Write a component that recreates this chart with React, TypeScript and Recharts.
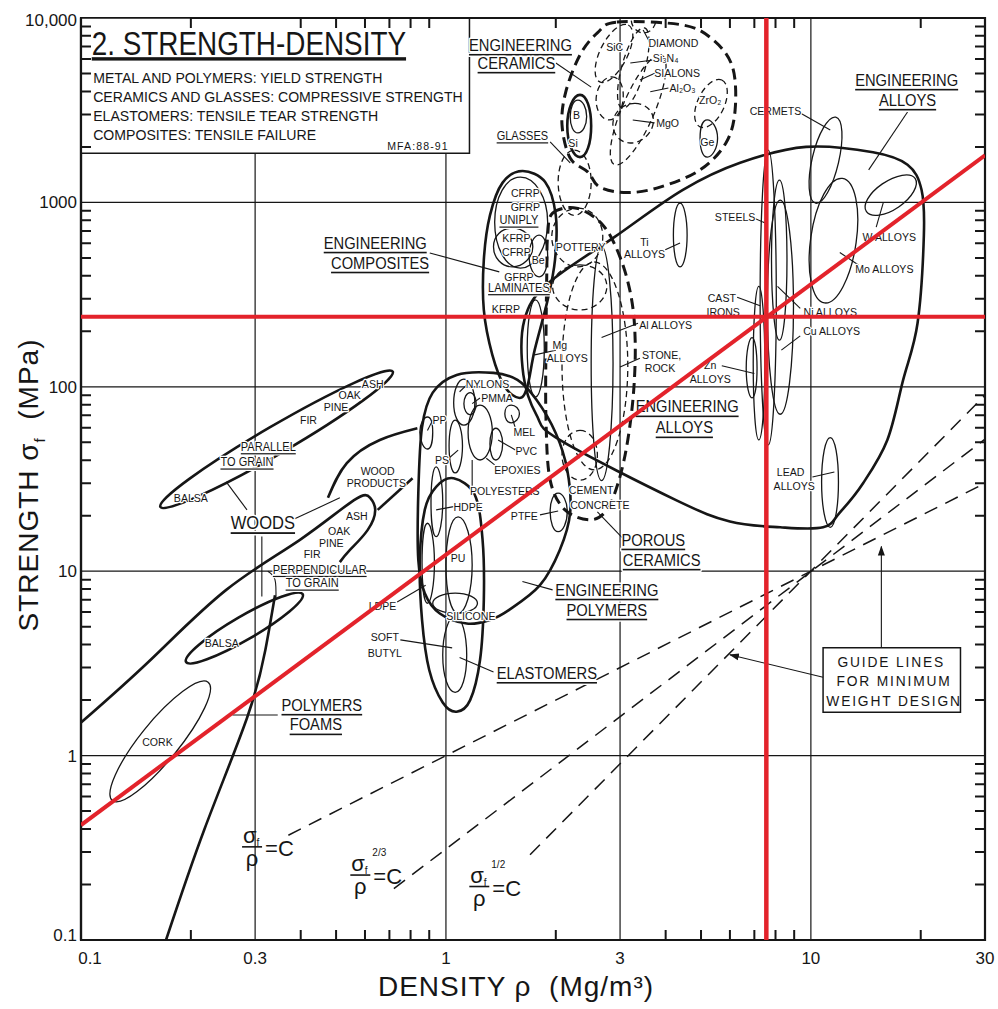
import React from 'react';
import {
  ComposedChart,
  Line,
  Scatter,
  XAxis,
  YAxis,
  ReferenceLine,
  ReferenceArea,
} from 'recharts';

type Pt = [number, number];
interface Tag { t: string; x: number; y: number }

// ---- axis ticks ----
const majorX = [0.1, 0.3, 1, 3, 10, 30];
const minorX = [0.2, 0.4, 0.5, 0.6, 0.7, 0.8, 0.9, 2, 4, 5, 6, 7, 8, 9, 20];
const majorY = [0.1, 1, 10, 100, 1000, 10000];
const minorY = [
  0.2, 0.3, 0.4, 0.5, 0.6, 0.7, 0.8, 0.9, 2, 3, 4, 5, 6, 7, 8, 9,
  20, 30, 40, 50, 60, 70, 80, 90, 200, 300, 400, 500, 600, 700, 800, 900,
  2000, 3000, 4000, 5000, 6000, 7000, 8000, 9000,
];

// ---- material family envelopes (density Mg/m3, strength MPa) ----
const alloysEnvelope: Pt[] = [
  [1.9, 362], [2.9, 650], [4.46, 1170], [6.4, 1640], [9.7, 2000], [14.8, 1870], [18.4, 1600],
  [20.1, 1170], [20.4, 665], [19.6, 221], [17.9, 109], [16.2, 51.5], [13.9, 30], [12.0, 20.8],
  [10.8, 17.3], [8.24, 17.3], [6.0, 18.6], [4.27, 24.3], [2.05, 51.5], [1.77, 70.5], [1.63, 116], [1.64, 230],
];
const ceramicsEnvelope: Pt[] = [
  [2.94, 9500], [4.46, 9160], [5.4, 7600], [6.1, 5420], [6.2, 3170], [5.85, 2100], [4.97, 1500],
  [3.86, 1210], [3.14, 1130], [2.64, 1210], [2.45, 1460], [2.19, 1740], [2.08, 2630], [2.13, 3980],
  [2.33, 6300], [2.6, 8300],
];
const porousEnvelope: Pt[] = [
  [1.96, 875], [2.28, 930], [2.69, 755], [3.0, 505], [3.22, 305], [3.3, 179], [3.27, 96], [3.15, 51.5],
  [2.98, 31.2], [2.76, 21.5], [2.48, 19], [2.12, 21.5], [1.93, 31.2], [1.88, 66], [1.88, 179], [1.89, 430], [1.9, 665],
];
const compositesEnvelope: Pt[] = [
  [1.62, 1480], [1.87, 1290], [2.0, 850], [1.99, 488], [1.9, 296], [1.75, 158], [1.67, 100], [1.59, 87],
  [1.45, 100], [1.34, 149], [1.27, 261], [1.27, 488], [1.32, 850], [1.43, 1280],
];
const polymersEnvelope: Pt[] = [
  [1.07, 116], [0.92, 93], [0.86, 60.4], [0.84, 26.5], [0.84, 11.5], [0.875, 7.6], [0.962, 5.9], [1.14, 5.2],
  [1.32, 5.44], [1.49, 6.17], [1.81, 8.4], [2.05, 13], [2.19, 20.8], [2.15, 35.4], [2.0, 56], [1.77, 85],
  [1.57, 109], [1.35, 119],
];
const elastomersEnvelope: Pt[] = [
  [1.05, 31.9], [1.2, 25.9], [1.26, 14.8], [1.27, 6.99], [1.24, 3.3], [1.165, 2.0], [1.07, 1.73], [0.98, 1.94],
  [0.9, 2.91], [0.86, 5.44], [0.848, 11.5], [0.875, 21.5], [0.94, 28.7],
];

// open outlines (woods, foams)
const woodsPerpEdge: Pt[] = [
  [0.1, 1.51], [0.155, 3.3], [0.25, 7.92], [0.398, 14.8], [0.56, 24.3], [0.62, 25], [0.64, 21.5],
  [0.61, 16.7], [0.545, 13], [0.512, 11.2],
];
const woodProductsUpper: Pt[] = [[0.475, 25], [0.535, 38.6], [0.659, 51.5], [0.835, 59.6]];
const woodProductsLower: Pt[] = [[0.65, 21.5], [0.81, 31.9]];
const foamsEdge: Pt[] = [[0.171, 0.1], [0.218, 0.4], [0.285, 1.6], [0.32, 3.74], [0.34, 7.4]];

// ---- individual material bubbles: 4 rim points each (tip, side, tip, side) ----
const thickBubbles: Pt[][] = [
  [[0.165, 22.3], [0.358, 44.4], [0.715, 121], [0.328, 60]], // woods parallel to grain
  [[0.194, 3.22], [0.29, 4.32], [0.405, 7.5], [0.27, 5.6]], // balsa perpendicular
  [[2.33, 3830], [2.5, 2600], [2.33, 1760], [2.15, 2600]], // boron
];
const thinBubbles: Pt[][] = [
  // alloys
  [[4.38, 990], [4.58, 665], [4.38, 447], [4.2, 665]], // Ti
  [[7.64, 1920], [8.04, 302], [7.64, 48.4], [7.26, 302]], // steels
  [[8.2, 1320], [8.6, 488], [8.2, 179], [7.8, 488]], // Ni
  [[8.24, 1030], [8.96, 272], [8.24, 71], [7.6, 272]], // Cu
  [[7.2, 350], [7.48, 134], [7.2, 51.5], [6.95, 134]], // cast irons
  [[6.9, 185], [7.12, 126], [6.9, 87], [6.65, 126]], // Zn
  [[1.76, 296], [1.86, 162], [1.76, 88], [1.67, 162]], // Mg
  [[2.67, 575], [2.87, 134], [2.67, 31], [2.5, 134]], // Al
  [[11.3, 53], [11.9, 30.5], [11.3, 17.3], [10.7, 30.5]], // lead
  [[12.2, 1350], [13.3, 603], [10.9, 285], [10.0, 650]], // Mo
  [[11.7, 2900], [11.9, 1640], [10.3, 990], [10.1, 1760]], // cermets
  [[14.2, 890], [17.4, 945], [19.3, 1350], [15.7, 1260]], // W
  [[5.2, 2800], [5.55, 2230], [5.2, 1760], [4.97, 2230]], // Ge
  [[2.3, 3590], [2.43, 2920], [2.3, 2380], [2.19, 2920]], // B
  // composites
  [[1.6, 1370], [1.9, 780], [1.6, 440], [1.36, 780]], // uniply
  [[1.52, 725], [1.73, 575], [1.52, 447], [1.35, 575]], // laminates
  [[1.8, 665], [1.9, 512], [1.8, 395], [1.69, 512]], // Be
  // polymers
  [[1.12, 110], [1.2, 82], [1.12, 62], [1.05, 82]], // nylons
  [[1.165, 93], [1.21, 81], [1.165, 70.5], [1.12, 81]], // PMMA
  [[0.89, 68.6], [0.92, 56.7], [0.89, 46], [0.848, 56.7]], // PP
  [[1.06, 66], [1.11, 47.7], [1.06, 34.1], [1.02, 47.7]], // PS
  [[1.24, 79.6], [1.34, 56.7], [1.24, 40.1], [1.15, 56.7]], // epoxies
  [[1.37, 59.6], [1.43, 49], [1.37, 40.1], [1.32, 49]], // PVC
  [[1.51, 79.6], [1.59, 71.5], [1.51, 63.8], [1.45, 71.5]], // MEL
  [[0.94, 36.8], [0.98, 23.7], [0.94, 15.4], [0.91, 23.7]], // HDPE
  [[1.08, 19.7], [1.18, 10.8], [1.08, 5.9], [1.0, 10.8]], // PU
  [[0.89, 18.2], [0.93, 11.1], [0.89, 6.7], [0.86, 11.1]], // LDPE
  [[1.06, 7.6], [1.22, 6.7], [1.06, 5.9], [0.92, 6.7]], // silicone
  [[1.06, 5.7], [1.14, 3.5], [1.06, 2.2], [0.98, 3.5]], // soft butyl
  [[2.03, 26.5], [2.15, 21], [2.03, 16.4], [1.93, 21]], // PTFE
  [[0.122, 0.57], [0.181, 1.03], [0.223, 2.5], [0.149, 1.38]], // cork
];
const dashedBubbles: Pt[][] = [
  [[3.16, 9160], [3.12, 6000], [2.64, 4500], [2.67, 6950]], // SiC
  [[3.9, 6300], [3.7, 2950], [2.9, 1600], [3.06, 3400]], // Al2O3 / sialons
  [[3.3, 3440], [3.7, 2700], [3.2, 2100], [2.87, 2730]], // MgO
  [[2.85, 4800], [3.06, 3680], [2.8, 2800], [2.58, 3680]],
  [[5.7, 4610], [5.75, 3200], [4.97, 2570], [4.93, 3680]], // ZrO2
  [[3.5, 8830], [3.5, 5160], [3.04, 3240], [3.04, 5570]], // Si3N4
  [[3.48, 11050], [3.76, 9750], [3.48, 8300], [3.22, 9750]], // diamond
  [[2.25, 1920], [2.5, 1290], [2.25, 850], [2.03, 1290]], // glasses
  [[2.3, 930], [2.69, 650], [2.3, 447], [1.95, 650]], // pottery
  [[2.33, 458], [2.76, 350], [2.33, 261], [1.96, 350]],
  [[2.55, 475], [3.15, 130], [2.55, 35.4], [2.08, 130]], // stone
  [[2.33, 58], [2.6, 42.7], [2.33, 31.2], [2.08, 42.7]], // cement
];

// ---- leader lines ----
const leaders: Pt[][] = [
  [[3.99, 553], [4.38, 603]], [[7.0, 820], [7.53, 770]], [[6.28, 306], [7.26, 275]],
  [[5.7, 130], [7.0, 118]], [[2.0, 158], [1.75, 149]], [[3.36, 221], [2.67, 185]],
  [[3.4, 143], [3.0, 128]], [[9.35, 266], [8.1, 350]], [[9.35, 189], [8.3, 158]],
  [[13.5, 458], [12.0, 535]], [[15.1, 735], [15.8, 1000]], [[9.35, 3050], [11.3, 2470]],
  [[18.4, 3090], [14.4, 1500]], [[10.1, 32.4], [11.6, 34.5]], [[2.0, 5700], [2.5, 4220]],
  [[1.93, 2130], [2.19, 1640]], [[3.63, 7300], [3.47, 8610]], [[3.7, 5920], [3.2, 5700]],
  [[3.8, 5100], [3.4, 4610]], [[4.07, 4170], [3.63, 3980]], [[3.73, 2700], [3.25, 2800]],
  [[3.04, 15.2], [2.6, 21]], [[0.903, 532], [1.4, 420]], [[1.15, 104], [1.09, 94]],
  [[1.24, 87], [1.18, 81]], [[0.92, 66], [0.89, 58]], [[1.55, 59.6], [1.51, 70.5]],
  [[1.55, 45.4], [1.39, 51.5]], [[1.02, 41.1], [1.08, 45.4]], [[1.36, 37.7], [1.29, 41]],
  [[1.18, 28.7], [1.18, 40.1]], [[1.05, 22.4], [0.94, 21.5]], [[1.81, 20.2], [2.03, 21.2]],
  [[0.735, 6.8], [0.88, 8.4]], [[0.75, 4.24], [1.04, 3.84]], [[1.96, 7.92], [1.62, 8.8]],
  [[1.35, 2.84], [1.09, 3.4]], [[0.285, 21.5], [0.25, 30.5]], [[0.38, 19], [0.512, 25]],
  [[0.313, 15.4], [0.313, 7.3]], [[0.346, 1.66], [0.26, 1.66]],
  [[0.325, 10], [0.34, 9], [0.342, 7]],
];
const arrows: Pt[][] = [
  [[15.6, 3.88], [15.6, 13.6]],
  [[10.8, 2.66], [6.0, 3.52]],
];

// ---- guide lines sigma/rho = C, sigma^2/3/rho = C, sigma^1/2/rho = C ----
const guideLines: Pt[][] = [
  [[0.37, 0.37], [30, 30]],
  [[0.72, 0.19], [30, 52]],
  [[1.7, 0.29], [30, 90]],
];
const redCross = { density: 7.55, strength: 240 };
const redDiagonal: Pt[] = [[0.1, 0.42], [30, 1800]];

// ---- text ----
const titleTag: Tag[] = [{ t: '2. STRENGTH-DENSITY', x: 0.107, y: 6300 }];
const headerLines: Tag[] = [
  { t: 'METAL AND POLYMERS: YIELD STRENGTH', x: 0.108, y: 4450 },
  { t: 'CERAMICS AND GLASSES: COMPRESSIVE STRENGTH', x: 0.108, y: 3500 },
  { t: 'ELASTOMERS: TENSILE TEAR STRENGTH', x: 0.108, y: 2760 },
  { t: 'COMPOSITES: TENSILE FAILURE', x: 0.108, y: 2180 },
];
const sourceTag: Tag[] = [{ t: 'MFA:88-91', x: 0.69, y: 1920 }];
const familyLabels: Tag[] = [
  { t: 'ENGINEERING', x: 18.3, y: 4610 }, { t: 'ALLOYS', x: 18.4, y: 3590 },
  { t: 'ENGINEERING', x: 4.58, y: 78 }, { t: 'ALLOYS', x: 4.5, y: 60 },
  { t: 'ENGINEERING', x: 0.64, y: 603 }, { t: 'COMPOSITES', x: 0.66, y: 470 },
  { t: 'ENGINEERING', x: 1.6, y: 7130 }, { t: 'CERAMICS', x: 1.56, y: 5700 },
  { t: 'ENGINEERING', x: 2.76, y: 7.92 }, { t: 'POLYMERS', x: 2.76, y: 6.17 },
  { t: 'ELASTOMERS', x: 1.89, y: 2.8 },
  { t: 'POROUS', x: 3.7, y: 14.8 }, { t: 'CERAMICS', x: 3.9, y: 11.5 },
  { t: 'POLYMERS', x: 0.457, y: 1.88 }, { t: 'FOAMS', x: 0.44, y: 1.47 },
];
const woodsTag: Tag[] = [{ t: 'WOODS', x: 0.315, y: 18.3 }];
const underlinedLabels: Tag[] = [
  { t: 'GLASSES', x: 1.62, y: 2290 }, { t: 'UNIPLY', x: 1.585, y: 800 },
  { t: 'LAMINATES', x: 1.585, y: 344 }, { t: 'PARALLEL', x: 0.326, y: 47.2 },
  { t: 'TO GRAIN', x: 0.285, y: 39 }, { t: 'PERPENDICULAR', x: 0.451, y: 10.2 },
  { t: 'TO GRAIN', x: 0.43, y: 8.6 },
];
const materialLabels: Tag[] = [
  { t: 'CFRP', x: 1.65, y: 1130 }, { t: 'GFRP', x: 1.65, y: 945 }, { t: 'KFRP', x: 1.56, y: 640 },
  { t: 'CFRP', x: 1.56, y: 540 }, { t: 'Be', x: 1.79, y: 488 }, { t: 'GFRP', x: 1.585, y: 395 },
  { t: 'KFRP', x: 1.46, y: 265 },
  { t: 'SiC', x: 2.9, y: 6950 }, { t: 'DIAMOND', x: 4.2, y: 7300 }, { t: 'Si₃N₄', x: 4.0, y: 6060 },
  { t: 'SIALONS', x: 4.3, y: 5050 }, { t: 'Al₂O₃', x: 4.45, y: 4170 }, { t: 'ZrO₂', x: 5.3, y: 3590 },
  { t: 'MgO', x: 4.05, y: 2700 }, { t: 'Ge', x: 5.2, y: 2130 }, { t: 'B', x: 2.28, y: 2980 },
  { t: 'Si', x: 2.23, y: 2100 }, { t: 'POTTERY', x: 2.34, y: 575 }, { t: 'STONE,', x: 3.9, y: 149 },
  { t: 'ROCK', x: 3.86, y: 126 }, { t: 'CEMENT', x: 2.5, y: 27.6 }, { t: 'CONCRETE', x: 2.64, y: 23 },
  { t: 'CERMETS', x: 8.0, y: 3130 }, { t: 'STEELS', x: 6.2, y: 830 }, { t: 'Ti', x: 3.5, y: 612 },
  { t: 'ALLOYS', x: 3.5, y: 525 }, { t: 'CAST', x: 5.7, y: 302 }, { t: 'IRONS', x: 5.75, y: 256 },
  { t: 'Mg', x: 2.05, y: 168 }, { t: 'ALLOYS', x: 2.15, y: 143 }, { t: 'Al ALLOYS', x: 4.0, y: 217 },
  { t: 'Zn', x: 5.3, y: 131 }, { t: 'ALLOYS', x: 5.3, y: 111 }, { t: 'Ni ALLOYS', x: 11.3, y: 254 },
  { t: 'Cu ALLOYS', x: 11.4, y: 201 }, { t: 'Mo ALLOYS', x: 15.9, y: 435 }, { t: 'W ALLOYS', x: 16.4, y: 650 },
  { t: 'LEAD', x: 8.8, y: 34.5 }, { t: 'ALLOYS', x: 9.0, y: 29 },
  { t: 'NYLONS', x: 1.3, y: 104 }, { t: 'PMMA', x: 1.38, y: 87 }, { t: 'PP', x: 0.96, y: 66 },
  { t: 'MEL', x: 1.64, y: 56.7 }, { t: 'PVC', x: 1.66, y: 44.8 }, { t: 'PS', x: 0.975, y: 40.1 },
  { t: 'EPOXIES', x: 1.57, y: 35.4 }, { t: 'POLYESTERS', x: 1.45, y: 27.3 }, { t: 'HDPE', x: 1.15, y: 22.4 },
  { t: 'PTFE', x: 1.64, y: 20 }, { t: 'PU', x: 1.08, y: 11.8 }, { t: 'LDPE', x: 0.67, y: 6.5 },
  { t: 'SILICONE', x: 1.17, y: 5.7 }, { t: 'SOFT', x: 0.68, y: 4.4 }, { t: 'BUTYL', x: 0.68, y: 3.6 },
  { t: 'ASH', x: 0.63, y: 104 }, { t: 'OAK', x: 0.545, y: 90 }, { t: 'PINE', x: 0.5, y: 78 },
  { t: 'FIR', x: 0.42, y: 66 }, { t: 'BALSA', x: 0.2, y: 25 }, { t: 'WOOD', x: 0.65, y: 35 },
  { t: 'PRODUCTS', x: 0.645, y: 30 }, { t: 'ASH', x: 0.57, y: 20 }, { t: 'OAK', x: 0.51, y: 16.5 },
  { t: 'PINE', x: 0.485, y: 14.3 }, { t: 'FIR', x: 0.43, y: 12.4 }, { t: 'BALSA', x: 0.243, y: 4.1 },
  { t: 'CORK', x: 0.162, y: 1.19 },
];
const guideText: Tag[] = [
  { t: 'GUIDE LINES', x: 16.6, y: 3.22 },
  { t: 'FOR MINIMUM', x: 16.9, y: 2.54 },
  { t: 'WEIGHT DESIGN', x: 16.9, y: 1.98 },
];
const equationTags = [
  { pow: '', x: 0.298, y: 0.32 },
  { pow: '2/3', x: 0.59, y: 0.225 },
  { pow: '1/2', x: 1.25, y: 0.195 },
];
const titleBox = { x1: 0.1, x2: 1.16, y1: 1850, y2: 10000 };
const guideBox = { x1: 10.8, x2: 25.7, y1: 1.72, y2: 3.84 };

const W = 998;
const H = 1009;
const MARGIN = { top: 18, right: 13, bottom: 39, left: 21 };
const FONT = '"Liberation Sans", Arial, Helvetica, sans-serif';
const INK = '#161616';
const RED = '#e3232b';
const X_MIN = 0.1;
const X_MAX = 30;
const Y_MIN = 0.1;
const Y_MAX = 10000;
// length of the inward minor tick marks, as a ratio along each log axis (about 10px)
const TICK_X = 1.065;
const TICK_Y = 1.133;

const rows = (pts: Pt[]) => pts.map(([x, y]) => ({ x, y }));
const innerGridX = majorX.filter((v) => v > X_MIN && v < X_MAX);
const innerGridY = majorY.filter((v) => v > Y_MIN && v < Y_MAX);

// each frame edge becomes one comb-shaped polyline: along the edge, out to the tick, back
const comb = (values: number[], at: (v: number) => Pt, tip: (v: number) => Pt): Pt[] =>
  values.flatMap((v) => [at(v), tip(v), at(v)]);
const tickCombs: Pt[][] = [
  comb(minorX, (x) => [x, Y_MIN], (x) => [x, Y_MIN * TICK_Y]),
  comb(minorX, (x) => [x, Y_MAX], (x) => [x, Y_MAX / TICK_Y]),
  comb(minorY, (y) => [X_MIN, y], (y) => [X_MIN * TICK_X, y]),
  comb(minorY, (y) => [X_MAX, y], (y) => [X_MAX / TICK_X, y]),
];

// closed Catmull-Rom style curve; k = 0.276 makes 4 rim points into an ellipse
const closedCurve = (k: number) => (context: any) => {
  let pts: number[][] = [];
  return {
    areaStart() {},
    areaEnd() {},
    lineStart() { pts = []; },
    point(x: number, y: number) { pts.push([+x, +y]); },
    lineEnd() {
      const n = pts.length;
      if (n < 3) return;
      context.moveTo(pts[0][0], pts[0][1]);
      for (let i = 0; i < n; i++) {
        const a = pts[(i + n - 1) % n];
        const b = pts[i];
        const c = pts[(i + 1) % n];
        const d = pts[(i + 2) % n];
        context.bezierCurveTo(
          b[0] + (c[0] - a[0]) * k, b[1] + (c[1] - a[1]) * k,
          c[0] - (d[0] - b[0]) * k, c[1] - (d[1] - b[1]) * k,
          c[0], c[1],
        );
      }
      context.closePath();
    },
  };
};
const ellipseCurve = closedCurve(0.276);
const blobCurve = closedCurve(1 / 6);

const textShape = (size: number, o: { underline?: boolean; anchor?: string; sx?: number; spacing?: number; baseline?: string; halo?: number } = {}) =>
  (p: any) => (
    <text
      transform={`translate(${p.cx},${p.cy}) scale(${o.sx ?? 0.92},1)`}
      textAnchor={o.anchor ?? 'middle'}
      dominantBaseline={o.baseline ?? 'central'}
      fontSize={size}
      fontFamily={FONT}
      letterSpacing={o.spacing ?? 0}
      fill={INK}
      stroke="#fff"
      strokeWidth={o.halo ?? 2.5}
      strokeLinejoin="round"
      paintOrder="stroke"
      style={{ textDecoration: o.underline ? 'underline' : 'none' }}
    >
      {p.payload.t}
    </text>
  );

const EquationShape = (p: any) => (
  <g transform={`translate(${p.cx},${p.cy})`} fontFamily={FONT} fill={INK}>
    <text x={-3} y={-4} textAnchor="middle" fontSize={22}>
      σ<tspan fontSize={10} dy={3}>f</tspan>
    </text>
    {p.payload.pow ? <text x={10} y={-19} fontSize={10}>{p.payload.pow}</text> : null}
    <line x1={-12} x2={8} y1={0} y2={0} stroke={INK} strokeWidth={1.6} />
    <text x={-2} y={19} textAnchor="middle" fontSize={22}>ρ</text>
    <text x={11} y={9} fontSize={22}>=C</text>
  </g>
);

const XTick = (p: any) => {
  const v = p.payload.value;
  return (
    <text x={v === 0.1 ? p.x + 9 : p.x} y={p.y + 16} textAnchor="middle" fontSize={17} fontFamily={FONT} fill={INK}>
      {String(v)}
    </text>
  );
};
const YTick = (p: any) => {
  const v = p.payload.value;
  const label = v === 10000 ? '10,000' : String(v);
  const dy = v === 10000 ? 8 : v === 0.1 ? 1 : 6;
  return (
    <text x={p.x} y={p.y + dy} textAnchor="end" fontSize={17} fontFamily={FONT} fill={INK}>
      {label}
    </text>
  );
};

const outline = (key: string, pts: Pt[], type: any, width: number, dash?: string, color = INK, extra: any = {}) => (
  <Line
    key={key}
    data={rows(pts)}
    dataKey="y"
    type={type}
    stroke={color}
    strokeWidth={width}
    strokeDasharray={dash}
    fill="none"
    dot={false}
    activeDot={false}
    legendType="none"
    isAnimationActive={false}
    {...extra}
  />
);

const frame = { stroke: INK, strokeWidth: 2.2 };

export default function App() {
  return (
    <div style={{ position: 'absolute', left: 0, top: 0, width: W, height: H, background: '#fff' }}>
      <ComposedChart width={W} height={H} margin={MARGIN}>
        <defs>
          <marker id="arrowHead" viewBox="0 0 10 10" refX="9" refY="5" markerWidth="10" markerHeight="10"
            orient="auto" markerUnits="userSpaceOnUse">
            <path d="M0,1.5 L10,5 L0,8.5 z" fill={INK} />
          </marker>
        </defs>
        {innerGridX.map((v) => (
          <ReferenceLine key={`gx${v}`} x={v} stroke={INK} strokeWidth={1.2} zIndex={-50} />
        ))}
        {innerGridY.map((v) => (
          <ReferenceLine key={`gy${v}`} y={v} stroke={INK} strokeWidth={1.2} zIndex={-50} />
        ))}
        <XAxis dataKey="x" type="number" scale="log" domain={[X_MIN, X_MAX]} allowDataOverflow ticks={majorX}
          interval={0} tick={<XTick />} tickSize={0} tickMargin={8} tickLine={false} axisLine={frame} height={30} />
        <YAxis dataKey="y" type="number" scale="log" domain={[Y_MIN, Y_MAX]} allowDataOverflow ticks={majorY}
          interval={0} tick={<YTick />} tickSize={0} tickMargin={4} tickLine={false} axisLine={frame} width={60} />

        <ReferenceArea x1={X_MIN} x2={X_MAX} y1={Y_MIN} y2={Y_MAX} fill="none" stroke={INK} strokeWidth={2.2} zIndex={50} />
        <ReferenceArea {...titleBox} fill="#fff" fillOpacity={1} stroke={INK} strokeWidth={1.5} zIndex={50} />
        <ReferenceArea {...guideBox} fill="#fff" fillOpacity={1} stroke={INK} strokeWidth={1.5} zIndex={50} />

        {tickCombs.map((c, i) => outline(`tc${i}`, c, 'linear', 2))}
        {guideLines.map((g, i) => outline(`g${i}`, g, 'linear', 1.5, '14 9'))}

        {outline('alloys', alloysEnvelope, blobCurve, 2.6)}
        {outline('composites', compositesEnvelope, blobCurve, 2.6)}
        {outline('polymers', polymersEnvelope, blobCurve, 2.6)}
        {outline('elastomers', elastomersEnvelope, blobCurve, 2.6)}
        {outline('ceramics', ceramicsEnvelope, blobCurve, 3, '11 6')}
        {outline('porous', porousEnvelope, blobCurve, 3, '11 6')}
        {outline('woodsPerp', woodsPerpEdge, 'natural', 2.6)}
        {outline('woodUp', woodProductsUpper, 'natural', 2.6)}
        {outline('woodLow', woodProductsLower, 'natural', 2.6)}
        {outline('foams', foamsEdge, 'natural', 2.6)}

        {thickBubbles.map((b, i) => outline(`tb${i}`, b, ellipseCurve, 2.6))}
        {thinBubbles.map((b, i) => outline(`b${i}`, b, ellipseCurve, 1.3))}
        {dashedBubbles.map((b, i) => outline(`db${i}`, b, ellipseCurve, 1.3, '6 4'))}
        {leaders.map((l, i) => outline(`l${i}`, l, 'natural', 1.1))}
        {arrows.map((a, i) => outline(`a${i}`, a, 'linear', 1.1, undefined, INK, { markerEnd: 'url(#arrowHead)' }))}

        <Scatter data={titleTag} shape={textShape(34, { anchor: 'start', sx: 0.82, baseline: 'alphabetic', underline: true, halo: 0 })} isAnimationActive={false} legendType="none" />
        <Scatter data={headerLines} shape={textShape(15, { anchor: 'start', sx: 0.94, baseline: 'alphabetic', halo: 0 })} isAnimationActive={false} legendType="none" />
        <Scatter data={sourceTag} shape={textShape(11.5, { anchor: 'start', spacing: 1.2, baseline: 'alphabetic', halo: 0 })} isAnimationActive={false} legendType="none" />
        <Scatter data={familyLabels} shape={textShape(16, { underline: true, halo: 3 })} isAnimationActive={false} legendType="none" />
        <Scatter data={woodsTag} shape={textShape(18, { underline: true, halo: 3 })} isAnimationActive={false} legendType="none" />
        <Scatter data={underlinedLabels} shape={textShape(12, { underline: true })} isAnimationActive={false} legendType="none" />
        <Scatter data={materialLabels} shape={textShape(11.5)} isAnimationActive={false} legendType="none" />
        <Scatter data={guideText} shape={textShape(15, { spacing: 2, halo: 0 })} isAnimationActive={false} legendType="none" />
        <Scatter data={equationTags} shape={<EquationShape />} isAnimationActive={false} legendType="none" />

        <ReferenceLine y={redCross.strength} stroke={RED} strokeWidth={4} zIndex={3000} />
        <ReferenceLine x={redCross.density} stroke={RED} strokeWidth={4.5} zIndex={3000} />
        {outline('redDiag', redDiagonal, 'linear', 4, undefined, RED, { zIndex: 3000 })}
      </ComposedChart>

      <div style={{ position: 'absolute', left: 0, top: 970, width: 1032, textAlign: 'center', fontFamily: FONT, fontSize: 28, lineHeight: '34px', color: INK, letterSpacing: 1 }}>
        DENSITY ρ&nbsp;&nbsp;(Mg/m³)
      </div>
      <div style={{ position: 'absolute', left: 29 - 200, top: 485 - 17, width: 400, height: 34, textAlign: 'center', fontFamily: FONT, fontSize: 28, lineHeight: '34px', color: INK, letterSpacing: 1, transform: 'rotate(-90deg)' }}>
        STRENGTH σ<sub style={{ fontSize: 15 }}>f</sub>&nbsp;&nbsp;(MPa)
      </div>
    </div>
  );
}
